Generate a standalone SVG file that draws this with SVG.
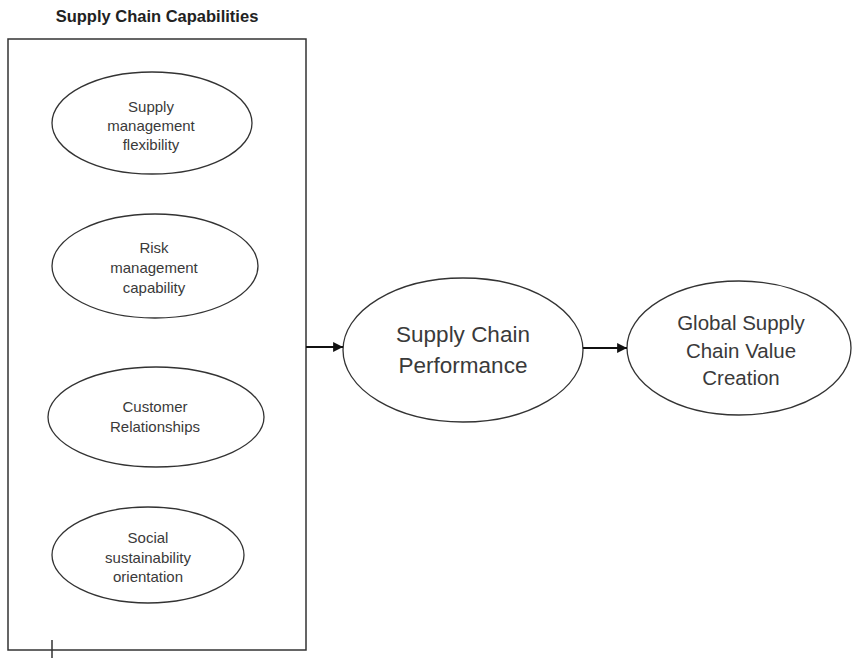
<svg xmlns="http://www.w3.org/2000/svg" width="852" height="658" viewBox="0 0 852 658">
  <style>
    .shape { fill: #ffffff; stroke: #333333; stroke-width: 1.3; }
    .frame { fill: none; stroke: #333333; stroke-width: 1.5; }
    .link { fill: none; stroke: #111111; stroke-width: 2.2; }
    .small { font-family: "Liberation Sans", Arial, sans-serif; font-size: 15px; fill: #3a3a3a; text-anchor: middle; }
    .mid { font-family: "Liberation Sans", Arial, sans-serif; font-size: 22.5px; fill: #3a3a3a; text-anchor: middle; }
    .big { font-family: "Liberation Sans", Arial, sans-serif; font-size: 20.5px; fill: #3a3a3a; text-anchor: middle; }
    .title { font-family: "Liberation Sans", Arial, sans-serif; font-size: 16.5px; font-weight: bold; fill: #222222; text-anchor: middle; }
  </style>
  <defs>
    <marker id="arrow" viewBox="0 0 10 10" refX="10" refY="5" markerWidth="4.5" markerHeight="4.5" orient="auto" markerUnits="strokeWidth">
      <path d="M0,0 L10,5 L0,10 z" fill="#111111"/>
    </marker>
  </defs>
  <rect width="852" height="658" fill="#ffffff"/>

  <g id="capabilities">
    <text class="title" x="157" y="22">Supply Chain Capabilities</text>
    <rect class="frame" x="8" y="39" width="298" height="611"/>
    <line class="frame" x1="52" y1="640" x2="52" y2="658"/>
  </g>

  <g id="supply-management-flexibility">
    <ellipse class="shape" cx="152" cy="123" rx="100" ry="51"/>
    <text class="small" x="151" y="112">Supply</text>
    <text class="small" x="151" y="131">management</text>
    <text class="small" x="151" y="150">flexibility</text>
  </g>

  <g id="risk-management-capability">
    <ellipse class="shape" cx="155" cy="266" rx="103" ry="52"/>
    <text class="small" x="154" y="253">Risk</text>
    <text class="small" x="154" y="273">management</text>
    <text class="small" x="154" y="293">capability</text>
  </g>

  <g id="customer-relationships">
    <ellipse class="shape" cx="156" cy="417" rx="108" ry="50"/>
    <text class="small" x="155" y="412">Customer</text>
    <text class="small" x="155" y="432">Relationships</text>
  </g>

  <g id="social-sustainability-orientation">
    <ellipse class="shape" cx="148" cy="555" rx="96" ry="48"/>
    <text class="small" x="148" y="543">Social</text>
    <text class="small" x="148" y="563">sustainability</text>
    <text class="small" x="148" y="582">orientation</text>
  </g>

  <g id="supply-chain-performance">
    <ellipse class="shape" cx="463" cy="350" rx="120" ry="72"/>
    <text class="mid" x="463" y="342">Supply Chain</text>
    <text class="mid" x="463" y="373">Performance</text>
  </g>

  <g id="global-value-creation">
    <ellipse class="shape" cx="739" cy="348" rx="112" ry="67"/>
    <text class="big" x="741" y="330">Global Supply</text>
    <text class="big" x="741" y="358">Chain Value</text>
    <text class="big" x="741" y="385">Creation</text>
  </g>

  <g id="connectors">
    <line class="link" x1="306" y1="347" x2="343" y2="347" marker-end="url(#arrow)"/>
    <line class="link" x1="583" y1="348" x2="627" y2="348" marker-end="url(#arrow)"/>
  </g>
</svg>
